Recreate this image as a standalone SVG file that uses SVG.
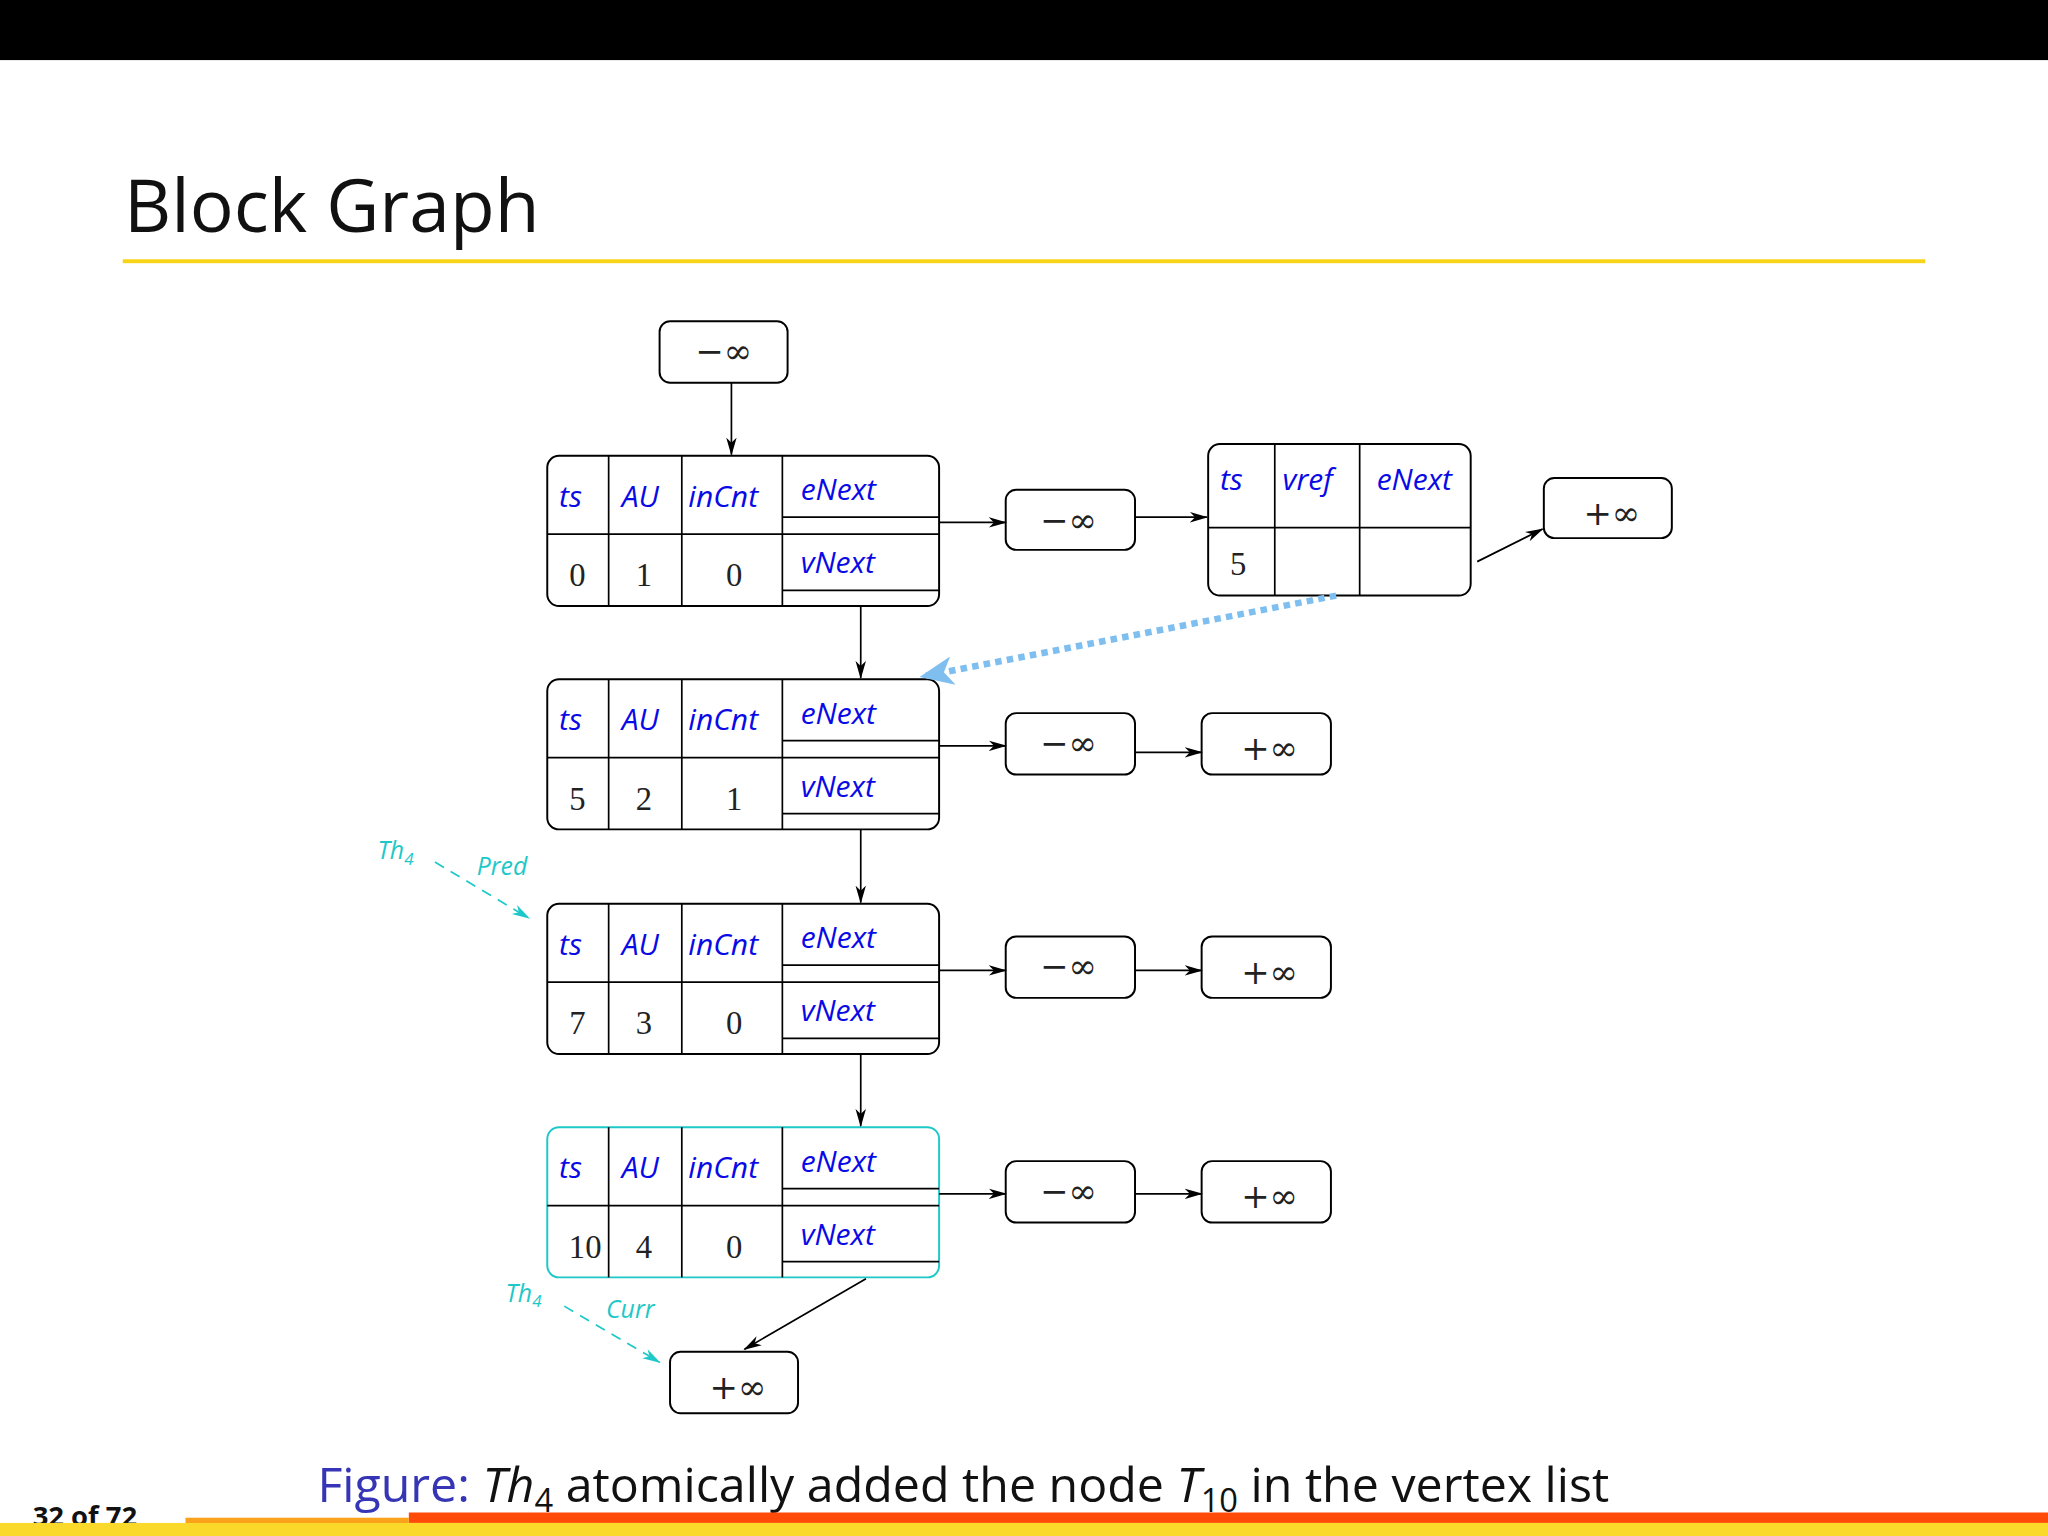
<svg xmlns="http://www.w3.org/2000/svg" width="2048" height="1536" viewBox="0 0 2048 1536">
<defs>
<style>
.box{fill:#fff;stroke:#000;stroke-width:1.5}
.cy{fill:#fff;stroke:#1ec8c8;stroke-width:1.5}
.ln{stroke:#000;stroke-width:1.3;fill:none}
.lc{stroke:#1ec8c8;stroke-width:1.3;fill:none}
.h{font-family:"Open Sans","DejaVu Sans",sans-serif;font-style:italic;font-size:23px;fill:#0a0ae6}
.v{font-family:"Liberation Serif","DejaVu Serif",serif;font-size:25px;fill:#222}
.inf{font-family:"DejaVu Serif","Liberation Serif",serif;font-size:26px;fill:#222}
.c{font-family:"Open Sans","DejaVu Sans",sans-serif;font-style:italic;font-size:19px;fill:#1ec8c8}
.con{stroke:#000;stroke-width:1.3;fill:none;marker-end:url(#ar)}
</style>
<marker id="ar" markerWidth="14" markerHeight="10" refX="13" refY="5" orient="auto" markerUnits="userSpaceOnUse"><path d="M0,1 L14,5 L0,9 L4,5z" fill="#000"/></marker>
<marker id="arc" markerWidth="14" markerHeight="10" refX="13" refY="5" orient="auto" markerUnits="userSpaceOnUse"><path d="M0,1 L14,5 L0,9 L4,5z" fill="#1ec8c8"/></marker>
<marker id="arb" markerWidth="26" markerHeight="22" refX="24" refY="11" orient="auto" markerUnits="userSpaceOnUse"><path d="M0,0 L26,11 L0,22 L7,11z" fill="#7fbfef"/></marker>
<g id="blk">
<line x1="466" y1="0" x2="466" y2="115" class="ln"/>
<line x1="522" y1="0" x2="522" y2="115" class="ln"/>
<line x1="599" y1="0" x2="599" y2="115" class="ln"/>
<line x1="0" y1="60" x2="300" y2="60" class="ln" transform="translate(419 0)"/>
<line x1="599" y1="47" x2="719" y2="47" class="ln"/>
<line x1="599" y1="103" x2="719" y2="103" class="ln"/>
<text x="428" y="39" class="h">ts</text>
<text x="476" y="39" class="h">AU</text>
<text x="527" y="39" class="h">inCnt</text>
<text x="613" y="34" class="h">eNext</text>
<text x="613" y="90" class="h">vNext</text>
</g>
</defs>
<g transform="scale(1.30612)">
<rect x="0" y="0" width="1568" height="46" fill="#000"/>
<text x="95" y="178" font-family="Open Sans,DejaVu Sans,sans-serif" font-size="56" fill="#111">Block Graph</text>
<rect x="94" y="198.5" width="1380" height="3" fill="#f7d417"/>

<g id="top-minf"><rect x="505" y="246" width="98" height="47" rx="8" class="box"/><text x="554" y="278" text-anchor="middle" class="inf">−∞</text></g>

<g id="node0"><rect x="419" y="349" width="300" height="115" rx="9" class="box"/><use href="#blk" y="349"/>
<text x="442" y="449" text-anchor="middle" class="v">0</text><text x="493" y="449" text-anchor="middle" class="v">1</text><text x="562" y="449" text-anchor="middle" class="v">0</text></g>
<g id="node5"><rect x="419" y="520" width="300" height="115" rx="9" class="box"/><use href="#blk" y="520"/>
<text x="442" y="620" text-anchor="middle" class="v">5</text><text x="493" y="620" text-anchor="middle" class="v">2</text><text x="562" y="620" text-anchor="middle" class="v">1</text></g>
<g id="node7"><rect x="419" y="692" width="300" height="115" rx="9" class="box"/><use href="#blk" y="692"/>
<text x="442" y="792" text-anchor="middle" class="v">7</text><text x="493" y="792" text-anchor="middle" class="v">3</text><text x="562" y="792" text-anchor="middle" class="v">0</text></g>
<g id="node10"><rect x="419" y="863" width="300" height="115" rx="9" class="cy"/><use href="#blk" y="863"/>
<text x="448" y="963" text-anchor="middle" class="v">10</text><text x="493" y="963" text-anchor="middle" class="v">4</text><text x="562" y="963" text-anchor="middle" class="v">0</text></g>

<g id="e0-minf"><rect x="770" y="375" width="99" height="46" rx="8" class="box"/><text x="818" y="407" text-anchor="middle" class="inf">−∞</text></g>
<g id="edge-tbl"><rect x="925" y="340" width="201" height="116" rx="9" class="box"/>
<line x1="976" y1="340" x2="976" y2="456" class="ln"/><line x1="1041" y1="340" x2="1041" y2="456" class="ln"/><line x1="925" y1="404" x2="1126" y2="404" class="ln"/>
<text x="934" y="375" class="h">ts</text><text x="982" y="375" class="h">vref</text><text x="1054" y="375" class="h">eNext</text><text x="948" y="440" text-anchor="middle" class="v">5</text></g>
<g id="e0-pinf"><rect x="1182" y="366" width="98" height="46" rx="8" class="box"/><text x="1234" y="402" text-anchor="middle" class="inf">+∞</text></g>

<g id="e5-minf"><rect x="770" y="546" width="99" height="47" rx="8" class="box"/><text x="818" y="578" text-anchor="middle" class="inf">−∞</text></g>
<g id="e5-pinf"><rect x="920" y="546" width="99" height="47" rx="8" class="box"/><text x="972" y="582" text-anchor="middle" class="inf">+∞</text></g>
<g id="e7-minf"><rect x="770" y="717" width="99" height="47" rx="8" class="box"/><text x="818" y="749" text-anchor="middle" class="inf">−∞</text></g>
<g id="e7-pinf"><rect x="920" y="717" width="99" height="47" rx="8" class="box"/><text x="972" y="753" text-anchor="middle" class="inf">+∞</text></g>
<g id="e10-minf"><rect x="770" y="889" width="99" height="47" rx="8" class="box"/><text x="818" y="921" text-anchor="middle" class="inf">−∞</text></g>
<g id="e10-pinf"><rect x="920" y="889" width="99" height="47" rx="8" class="box"/><text x="972" y="925" text-anchor="middle" class="inf">+∞</text></g>
<g id="bot-pinf"><rect x="513" y="1035" width="98" height="47" rx="8" class="box"/><text x="565" y="1071" text-anchor="middle" class="inf">+∞</text></g>

<g id="connectors">
<line x1="560" y1="293" x2="560" y2="348" class="con"/>
<line x1="659" y1="464" x2="659" y2="519" class="con"/>
<line x1="659" y1="635" x2="659" y2="691" class="con"/>
<line x1="659" y1="807" x2="659" y2="862" class="con"/>
<line x1="719" y1="400" x2="770" y2="400" class="con"/>
<line x1="869" y1="396" x2="924" y2="396" class="con"/>
<line x1="1131" y1="430" x2="1181" y2="405" class="con"/>
<line x1="719" y1="571" x2="770" y2="571" class="con"/>
<line x1="869" y1="576" x2="920" y2="576" class="con"/>
<line x1="719" y1="743" x2="770" y2="743" class="con"/>
<line x1="869" y1="743" x2="920" y2="743" class="con"/>
<line x1="719" y1="914" x2="770" y2="914" class="con"/>
<line x1="869" y1="914" x2="920" y2="914" class="con"/>
<line x1="663" y1="979" x2="570" y2="1033" class="con"/>
<line x1="1023" y1="456" x2="706" y2="518" stroke="#7fbfef" stroke-width="5" stroke-dasharray="5,4" marker-end="url(#arb)"/>
<line x1="333" y1="660" x2="405" y2="703" class="lc" stroke-dasharray="8,6" marker-end="url(#arc)"/>
<line x1="432" y1="1000" x2="505" y2="1043" class="lc" stroke-dasharray="8,6" marker-end="url(#arc)"/>
</g>
<text x="289" y="658" class="c">Th<tspan font-size="13" dy="4">4</tspan></text>
<text x="365" y="670" class="c">Pred</text>
<text x="387" y="997" class="c">Th<tspan font-size="13" dy="4">4</tspan></text>
<text x="464" y="1009" class="c">Curr</text>

<text x="243" y="1150" font-family="Open Sans,DejaVu Sans,sans-serif" font-size="37" fill="#111"><tspan fill="#3535b5">Figure:</tspan> <tspan font-style="italic">Th</tspan><tspan font-size="25" dy="8">4</tspan><tspan dy="-8"> atomically added the node </tspan><tspan font-style="italic">T</tspan><tspan font-size="25" dy="8">10</tspan><tspan dy="-8"> in the vertex list</tspan></text>
<text x="25" y="1168" font-family="Open Sans,DejaVu Sans,sans-serif" font-weight="bold" font-size="21" fill="#111">32 of 72</text>
<rect x="313" y="1158" width="1255" height="8" fill="#ff4a0a"/>
<rect x="142" y="1162" width="171" height="5" fill="#f9a21a"/>
<rect x="0" y="1166" width="1568" height="10" fill="#fbd92a"/>
</g>
</svg>
